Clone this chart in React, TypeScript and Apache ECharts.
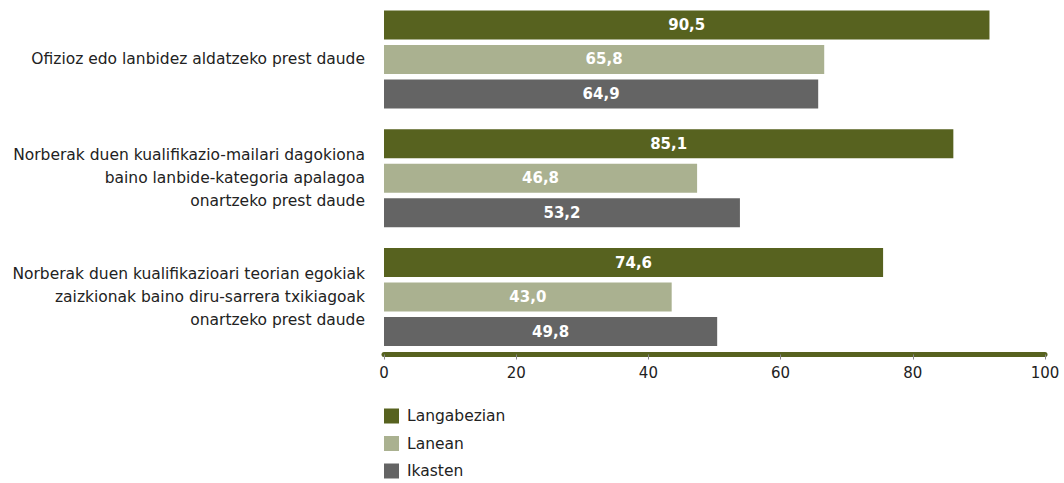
import React, { useEffect, useRef } from "react";
import * as echarts from "echarts";

const categories = [
  "Ofizioz edo lanbidez aldatzeko prest daude",
  "Norberak duen kualifikazio-mailari dagokiona\nbaino lanbide-kategoria apalagoa\nonartzeko prest daude",
  "Norberak duen kualifikazioari teorian egokiak\nzaizkionak baino diru-sarrera txikiagoak\nonartzeko prest daude",
];
const seriesNames = ["Langabezian", "Lanean", "Ikasten"];
const langabezian = [90.5, 85.1, 74.6];
const lanean = [65.8, 46.8, 43.0];
const ikasten = [64.9, 53.2, 49.8];
const xTicks = [0, 20, 40, 60, 80, 100];
const colors = ["#57621f", "#aab190", "#646464"];

const FONT = "DejaVu Sans";

export default function App() {
  const ref = useRef<HTMLDivElement>(null);
  useEffect(() => {
    document.body.style.margin = "0";
    const chart = echarts.init(ref.current!, null, { renderer: "svg" });
    const values = [langabezian, lanean, ikasten];
    chart.setOption({
      animation: false,
      textStyle: { fontFamily: FONT },
      legend: {
        orient: "vertical",
        left: 384,
        top: 408,
        padding: 0,
        itemWidth: 15,
        itemHeight: 15,
        itemGap: 11.5,
        icon: "rect",
        data: seriesNames,
        textStyle: { fontFamily: FONT, fontSize: 15.5, color: "#222", padding: [0, 0, 0, 3] },
      },
      grid: { left: 384, right: 19, top: -2, bottom: 126.5, containLabel: false },
      xAxis: [
        {
          type: "value",
          min: xTicks[0],
          max: xTicks[xTicks.length - 1],
          interval: 20,
          offset: -2,
          axisLine: { show: true, lineStyle: { color: "#57621f", width: 5 } },
          axisTick: { show: true, length: 5, lineStyle: { color: "#888", width: 1 } },
          splitLine: { show: false },
          axisLabel: { color: "#222", fontSize: 15, fontFamily: FONT, margin: 11 },
        },
        {
          type: "value",
          min: 0,
          max: 98.8,
          show: false,
          position: "top",
          splitLine: { show: false },
        },
      ],
      yAxis: {
        type: "category",
        data: categories,
        inverse: true,
        axisLine: { show: false },
        axisTick: { show: false },
        axisLabel: {
          color: "#222",
          fontSize: 15.5,
          fontFamily: FONT,
          lineHeight: 23,
          margin: 19,
          align: "right",
        },
      },
      series: seriesNames.map((name, i) => ({
        name,
        type: "bar",
        xAxisIndex: 1,
        data: values[i],
        barWidth: 29,
        barGap: "19%",
        itemStyle: { color: colors[i] },
        label: {
          show: true,
          position: "inside",
          color: "#fff",
          fontWeight: "bold",
          fontSize: 15,
          fontFamily: FONT,
          formatter: (p: any) => Number(p.value).toFixed(1).replace(".", ","),
        },
      })),
    });
    return () => chart.dispose();
  }, []);
  return <div ref={ref} style={{ width: 1064, height: 483 }} />;
}
